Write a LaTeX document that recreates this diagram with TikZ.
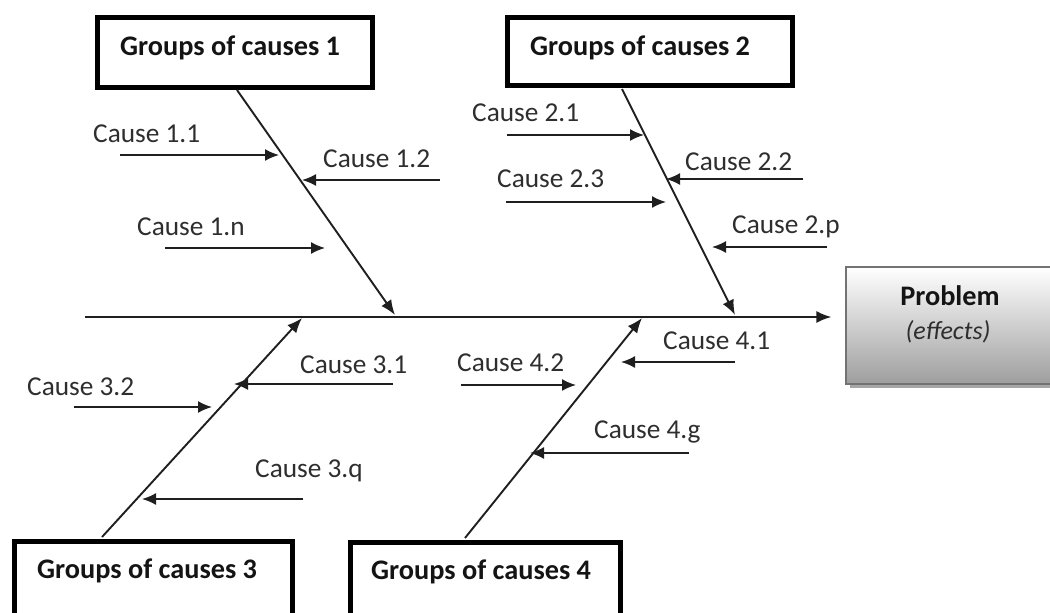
\documentclass[tikz,border=0pt]{standalone}
\usepackage{fontspec}
\setmainfont{Carlito}
\usetikzlibrary{arrows.meta,shadows}
\begin{document}
\begin{tikzpicture}[x=1pt,y=-1pt,
  groupbox/.style={draw=black,line width=5pt,fill=white,inner sep=0pt},
  grouplabel/.style={anchor=base west,inner sep=0pt,text=black!92,font=\fontsize{28.3}{32}\selectfont\bfseries},
  causelabel/.style={anchor=base west,inner sep=0pt,text=black!82,font=\fontsize{27.3}{31}\selectfont},
  bone/.style={line width=1.9pt,draw=black!88,-{Latex[length=15pt,width=12pt]}},
  causearrow/.style={line width=1.7pt,draw=black!88,-{Latex[length=14pt,width=12pt]}},
  probbox/.style={draw=black!55,line width=1.2pt,top color=white,bottom color=black!38,
    drop shadow={shadow xshift=4pt,shadow yshift=-4pt,fill=black!35,opacity=1}},
]
\useasboundingbox (0,0) rectangle (1050,613);

% group boxes
\node[groupbox,minimum width=275pt,minimum height=70pt] (g1) at (235,52.5) {};
\node[groupbox,minimum width=285pt,minimum height=68pt] (g2) at (650,51.5) {};
\node[groupbox,minimum width=278pt,minimum height=98.5pt] (g3) at (153.5,590.75) {};
\node[groupbox,minimum width=270pt,minimum height=97.5pt] (g4) at (485.5,591.25) {};
\node[grouplabel] (g1t) at (120,55) {Groups of causes 1};
\node[grouplabel] (g2t) at (530,55) {Groups of causes 2};
\node[grouplabel] (g3t) at (37,578) {Groups of causes 3};
\node[grouplabel] (g4t) at (371,579) {Groups of causes 4};

% problem box
\node[probbox,minimum width=224pt,minimum height=117pt,inner sep=0pt] (prob) at (958,325.5) {};
\node[anchor=base,inner sep=0pt,font=\fontsize{28.3}{32}\selectfont\bfseries,text=black!92] (probt) at (950,305) {Problem};
\node[anchor=base,inner sep=0pt,font=\fontsize{26}{30}\selectfont\itshape,text=black!82] (efft) at (948,339) {(effects)};

% spine
\coordinate (spinestart) at (85,317);
\draw[bone,shorten >=14pt] (spinestart) -- (spinestart -| prob.west);

% bones
\coordinate (b1tip) at (395,315);
\coordinate (b2tip) at (735,315);
\coordinate (b3tip) at (302,318);
\coordinate (b4tip) at (642,318);
\draw[bone] (g1.south) ++(2,0) -- (b1tip);
\draw[bone] (g2.south) ++(-28,1) -- (b2tip);
\draw[bone] (g3.north) ++(-51.5,-2) -- (b3tip);
\draw[bone] (g4.north) ++(-20.5,-2) -- (b4tip);

% cause labels
\node[causelabel] (c11) at (93,142) {Cause 1.1};
\node[causelabel] (c12) at (323,167) {Cause 1.2};
\node[causelabel] (c1n) at (137,235) {Cause 1.n};
\node[causelabel] (c21) at (472,121) {Cause 2.1};
\node[causelabel] (c22) at (685,170) {Cause 2.2};
\node[causelabel] (c23) at (497,187) {Cause 2.3};
\node[causelabel] (c2p) at (732,233) {Cause 2.p};
\node[causelabel] (c31) at (300,373) {Cause 3.1};
\node[causelabel] (c32) at (27,395) {Cause 3.2};
\node[causelabel] (c3q) at (255,477) {Cause 3.q};
\node[causelabel] (c41) at (663,349) {Cause 4.1};
\node[causelabel] (c42) at (457,371) {Cause 4.2};
\node[causelabel] (c4g) at (594,438) {Cause 4.g};

% cause arrows
\coordinate (a11s) at (120,155); \coordinate (a11e) at (279,155);
\coordinate (a12s) at (440,180); \coordinate (a12e) at (302,180);
\coordinate (a1ns) at (165,248); \coordinate (a1ne) at (325,248);
\coordinate (a21s) at (507,135); \coordinate (a21e) at (644,135);
\coordinate (a22s) at (803,179); \coordinate (a22e) at (666,179);
\coordinate (a23s) at (506,202); \coordinate (a23e) at (666,202);
\coordinate (a2ps) at (827,247); \coordinate (a2pe) at (712,247);
\coordinate (a31s) at (393,384); \coordinate (a31e) at (234,384);
\coordinate (a32s) at (74,407);  \coordinate (a32e) at (212,407);
\coordinate (a3qs) at (303,499); \coordinate (a3qe) at (142,499);
\coordinate (a41s) at (735,362); \coordinate (a41e) at (621,362);
\coordinate (a42s) at (461,385); \coordinate (a42e) at (576,385);
\coordinate (a4gs) at (689,453); \coordinate (a4ge) at (530,453);
\foreach \c in {11,12,1n,21,22,23,2p,31,32,3q,41,42,4g}{
  \draw[causearrow] (a\c s) -- (a\c e);
}
\end{tikzpicture}
\end{document}
